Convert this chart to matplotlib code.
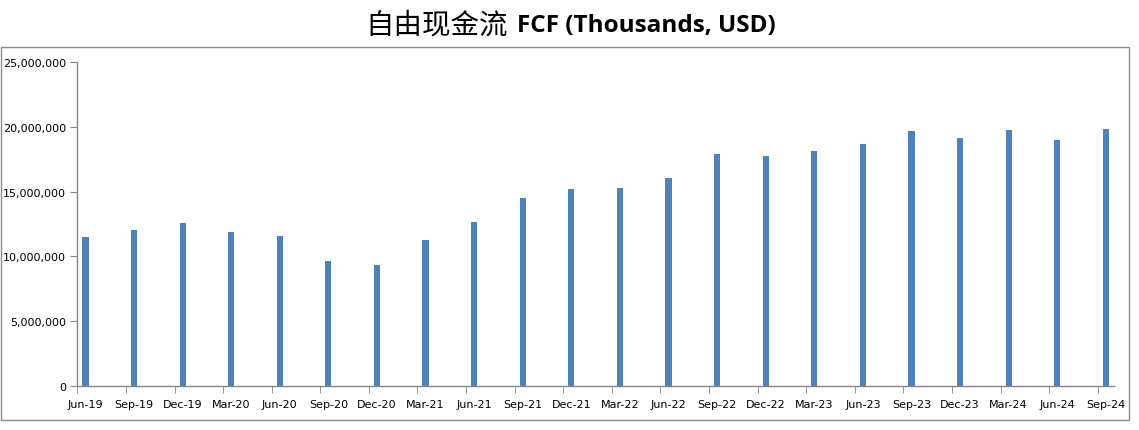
import matplotlib
matplotlib.use("Agg")
from matplotlib import pyplot as plt
from matplotlib.patches import Rectangle
from matplotlib.ticker import FuncFormatter

# quarterly dates and free cash flow (thousands USD)
quarters = ["Jun-19", "Sep-19", "Dec-19", "Mar-20", "Jun-20", "Sep-20", "Dec-20",
            "Mar-21", "Jun-21", "Sep-21", "Dec-21", "Mar-22", "Jun-22", "Sep-22",
            "Dec-22", "Mar-23", "Jun-23", "Sep-23", "Dec-23", "Mar-24", "Jun-24", "Sep-24"]
fcf = [11500000, 12040000, 12580000, 11880000, 11580000, 9650000, 9340000,
       11270000, 12650000, 14500000, 15200000, 15270000, 16040000, 17890000,
       17740000, 18120000, 18660000, 19660000, 19120000, 19740000, 18970000, 19820000]
y_ticks = [0, 5000000, 10000000, 15000000, 20000000, 25000000]

plt.rcParams['font.family'] = ['DejaVu Sans']

def main():
    fig = plt.figure(figsize=(11.39, 4.31), dpi=100)
    ax = fig.add_axes([0.0679, 0.1014, 0.9101, 0.7531])

    # date axis in months: one quarter = 3 month slots
    months = [3 * i for i in range(len(quarters))]
    ax.bar(months, fcf, width=0.38, color='#4F81BD')

    ax.set_xlim(-0.5, months[-1] + 0.5)
    ax.set_ylim(0, 25000000)
    ax.set_yticks(y_ticks)
    ax.yaxis.set_major_formatter(FuncFormatter(lambda v, p: f"{int(v):,}"))

    ax.set_xticks(months)
    ax.set_xticklabels(quarters)
    ax.set_xticks([m - 0.5 for m in months], minor=True)
    ax.tick_params(axis='x', which='major', length=0, pad=9, labelsize=8, colors='black')
    ax.tick_params(axis='x', which='minor', length=5, color='#868686', direction='out')
    ax.tick_params(axis='y', length=5, color='#868686', labelsize=8, pad=3)

    for s in ['top', 'right']:
        ax.spines[s].set_visible(False)
    for s in ['left', 'bottom']:
        ax.spines[s].set_color('#868686')
        ax.spines[s].set_linewidth(1)

    # outer chart frame
    fig.add_artist(Rectangle((0.001, 0.0232), 0.990, 0.865, transform=fig.transFigure,
                             fill=False, edgecolor='#8c8c8c', linewidth=1))

    # title: Chinese part normal, English part bold
    fig.text(0.4455, 0.94, "自由现金流", ha='right', va='center', fontsize=20.5,
             family=['Noto Sans CJK SC', 'DejaVu Sans'])
    fig.text(0.4535, 0.94, "FCF (Thousands, USD)", ha='left', va='center', fontsize=17.5,
             fontweight='bold', family=['Open Sans', 'DejaVu Sans'])

    fig.savefig('out.png', dpi=100)

main()
